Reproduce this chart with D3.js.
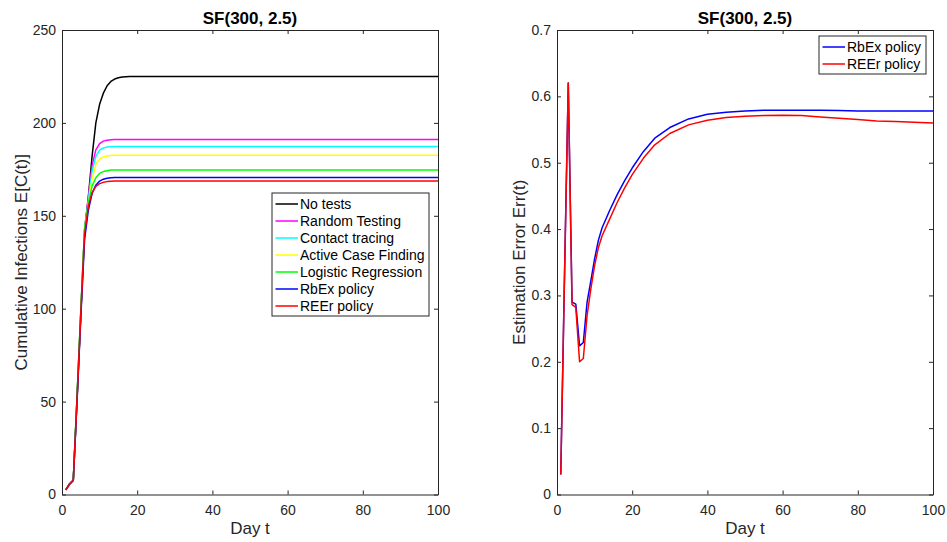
<!DOCTYPE html>
<html>
<head>
<meta charset="utf-8">
<script src="https://cdn.jsdelivr.net/npm/d3@7"></script>
<style>
  body { margin: 0; background: #fff; }
  text { font-family: "Liberation Sans", Arial, sans-serif; }
</style>
</head>
<body>
<script>
// ---- data ----
let daysLeft = [1, 2, 3, 4, 5, 6, 7, 8, 9, 10, 11, 12, 13, 14, 15, 16, 17, 18, 20, 30, 40, 50, 60, 70, 80, 90, 100];
let noTests = [2.5, 5.5, 7.5, 52, 98, 142, 160, 182, 200, 210, 216, 220, 222.3, 223.6, 224.3, 224.7, 224.9, 225, 225, 225, 225, 225, 225, 225, 225, 225, 225];
let randomTesting = [2.5, 5.5, 7.5, 52, 98, 142, 160, 177, 185.5, 188.8, 190.2, 190.7, 190.9, 191, 191, 191, 191, 191, 191, 191, 191, 191, 191, 191, 191, 191, 191];
let contactTracing = [2.5, 5.5, 7.5, 52, 98, 142, 158, 174, 182, 185.3, 186.5, 187, 187.2, 187.3, 187.3, 187.3, 187.3, 187.3, 187.3, 187.3, 187.3, 187.3, 187.3, 187.3, 187.3, 187.3, 187.3];
let activeCase = [2.5, 5.5, 7.5, 52, 98, 142, 156, 170, 177.5, 180.5, 181.7, 182.2, 182.5, 182.6, 182.6, 182.6, 182.6, 182.6, 182.6, 182.6, 182.6, 182.6, 182.6, 182.6, 182.6, 182.6, 182.6];
let logistic = [2.5, 6, 8, 53, 99, 143, 157, 166, 170.5, 172.8, 173.8, 174.3, 174.6, 174.7, 174.7, 174.7, 174.7, 174.7, 174.7, 174.7, 174.7, 174.7, 174.7, 174.7, 174.7, 174.7, 174.7];
let rbexLeft = [2.5, 5.5, 7.5, 50, 95, 137, 153, 162, 166.5, 168.7, 169.7, 170.2, 170.5, 170.6, 170.6, 170.6, 170.6, 170.6, 170.6, 170.6, 170.6, 170.6, 170.6, 170.6, 170.6, 170.6, 170.6];
let reerLeft = [2.5, 5.5, 7.5, 51, 97, 140, 155, 162.5, 165.8, 167.3, 168, 168.4, 168.6, 168.7, 168.7, 168.7, 168.7, 168.7, 168.7, 168.7, 168.7, 168.7, 168.7, 168.7, 168.7, 168.7, 168.7];

let daysRight = [1, 2, 3, 4, 5, 6, 7, 8, 9, 10, 11, 12, 14, 16, 18, 20, 23, 26, 30, 35, 40, 45, 50, 55, 60, 65, 70, 75, 80, 85, 90, 95, 100];
let rbexErr = [0.03, 0.33, 0.62, 0.29, 0.287, 0.224, 0.229, 0.29, 0.322, 0.355, 0.383, 0.402, 0.428, 0.452, 0.473, 0.492, 0.517, 0.537, 0.553, 0.566, 0.573, 0.576, 0.578, 0.579, 0.579, 0.579, 0.579, 0.5785, 0.578, 0.578, 0.578, 0.578, 0.578];
let reerErr = [0.03, 0.33, 0.62, 0.286, 0.282, 0.2, 0.205, 0.27, 0.31, 0.345, 0.372, 0.39, 0.415, 0.44, 0.462, 0.482, 0.507, 0.527, 0.544, 0.557, 0.564, 0.568, 0.57, 0.571, 0.5715, 0.571, 0.569, 0.567, 0.565, 0.563, 0.562, 0.561, 0.56];

let leftNames = ["No tests", "Random Testing", "Contact tracing", "Active Case Finding", "Logistic Regression", "RbEx policy", "REEr policy"];
let leftColors = ["#000000", "#ff00ff", "#00ffff", "#ffff00", "#00ff00", "#0000ff", "#ff0000"];
let rightNames = ["RbEx policy", "REEr policy"];
let rightColors = ["#0000ff", "#ff0000"];

let xTicks = [0, 20, 40, 60, 80, 100];
let yTicksLeft = [0, 50, 100, 150, 200, 250];
let yTicksRight = [0, 0.1, 0.2, 0.3, 0.4, 0.5, 0.6, 0.7];

// ---- layout ----
let width = 947;
let height = 542;
let axisColor = "#262626";
let lineWidth = 1.5;
let tickLength = 4;
let tickFont = "14px";
let labelFont = "17px";

let svg = d3
  .select("body")
  .append("svg")
  .attr("width", width)
  .attr("height", height);

function drawPanel(opts) {
  let x = d3.scaleLinear().domain([0, 100]).range([opts.left, opts.right]);
  let y = d3.scaleLinear().domain(opts.yDomain).range([opts.bottom, opts.top]);
  let g = svg.append("g");

  // series
  let line = d3
    .line()
    .x((d) => x(d[0]))
    .y((d) => y(d[1]));
  opts.series.forEach(function (values, i) {
    let pts = opts.days.map((d, j) => [d, values[j]]);
    g.append("path")
      .datum(pts)
      .attr("fill", "none")
      .attr("stroke", opts.colors[i])
      .attr("stroke-width", lineWidth)
      .attr("stroke-linejoin", "round")
      .attr("d", line);
  });

  // axes (ticks inside, box on all sides)
  g.append("g")
    .attr("transform", "translate(0," + opts.bottom + ")")
    .call(d3.axisBottom(x).tickValues(xTicks).tickSizeInner(-tickLength).tickSizeOuter(0).tickPadding(10.5));
  g.append("g")
    .attr("transform", "translate(0," + opts.top + ")")
    .call(d3.axisTop(x).tickValues(xTicks).tickSizeInner(-tickLength).tickSizeOuter(0).tickFormat(""));
  g.append("g")
    .attr("transform", "translate(" + opts.left + ",0)")
    .call(d3.axisLeft(y).tickValues(opts.yTicks).tickSizeInner(-tickLength).tickSizeOuter(0).tickPadding(6).tickFormat(opts.yFormat));
  g.append("g")
    .attr("transform", "translate(" + opts.right + ",0)")
    .call(d3.axisRight(y).tickValues(opts.yTicks).tickSizeInner(-tickLength).tickSizeOuter(0).tickFormat(""));

  g.selectAll(".domain").attr("stroke", axisColor).attr("stroke-width", 1);
  g.selectAll(".tick line").attr("stroke", axisColor);
  g.selectAll(".tick text")
    .attr("fill", axisColor)
    .style("font-size", tickFont)
    .style("font-family", "Liberation Sans, Arial, sans-serif");

  // title and labels
  g.append("text")
    .attr("x", (opts.left + opts.right) / 2)
    .attr("y", 23.5)
    .attr("text-anchor", "middle")
    .style("font-size", labelFont)
    .style("font-weight", "bold")
    .attr("fill", "#000")
    .text(opts.title);
  g.append("text")
    .attr("x", (opts.left + opts.right) / 2)
    .attr("y", 534)
    .attr("text-anchor", "middle")
    .style("font-size", labelFont)
    .attr("fill", axisColor)
    .text("Day t");
  g.append("text")
    .attr("transform", "translate(" + opts.yLabelX + "," + (opts.top + opts.bottom) / 2 + ") rotate(-90)")
    .attr("text-anchor", "middle")
    .style("font-size", labelFont)
    .attr("fill", axisColor)
    .text(opts.yLabel);

  // legend
  let lg = opts.legend;
  let rowH = 17;
  let box = g.append("g");
  box.append("rect")
    .attr("x", lg.x)
    .attr("y", lg.y)
    .attr("width", lg.w)
    .attr("height", opts.names.length * rowH + 4)
    .attr("fill", "#fff")
    .attr("stroke", axisColor)
    .attr("stroke-width", 1);
  opts.names.forEach(function (name, i) {
    let cy = lg.y + 11 + i * rowH;
    box.append("line")
      .attr("x1", lg.x + 3.5)
      .attr("x2", lg.x + 26)
      .attr("y1", cy)
      .attr("y2", cy)
      .attr("stroke", opts.colors[i])
      .attr("stroke-width", lineWidth);
    box.append("text")
      .attr("x", lg.x + 28)
      .attr("y", cy + 5)
      .style("font-size", tickFont)
      .attr("fill", "#000")
      .text(name);
  });
}

drawPanel({
  left: 62,
  right: 438,
  top: 30,
  bottom: 494.5,
  yDomain: [0, 250],
  yTicks: yTicksLeft,
  yFormat: d3.format("d"),
  days: daysLeft,
  series: [noTests, randomTesting, contactTracing, activeCase, logistic, rbexLeft, reerLeft],
  colors: leftColors,
  names: leftNames,
  title: "SF(300, 2.5)",
  yLabel: "Cumulative Infections E[C(t)]",
  yLabelX: 26.5,
  legend: { x: 272, y: 193, w: 157 }
});

drawPanel({
  left: 557,
  right: 933,
  top: 30,
  bottom: 494.5,
  yDomain: [0, 0.7],
  yTicks: yTicksRight,
  yFormat: (d) => (d === 0 ? "0" : d3.format(".1f")(d)),
  days: daysRight,
  series: [rbexErr, reerErr],
  colors: rightColors,
  names: rightNames,
  title: "SF(300, 2.5)",
  yLabel: "Estimation Error Err(t)",
  yLabelX: 525,
  legend: { x: 819, y: 36, w: 107 }
});
</script>
</body>
</html>
